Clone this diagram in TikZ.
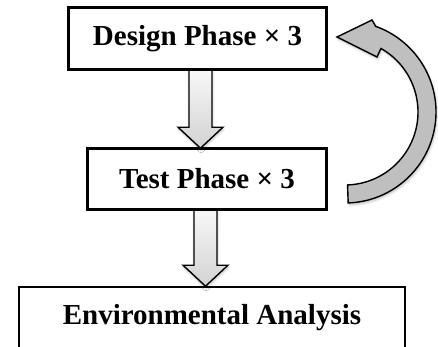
\documentclass[tikz,border=0pt]{standalone}
\usepackage{fontspec}
\setmainfont{Liberation Serif}
\usetikzlibrary{calc,shadows.blur}

\tikzset{
  phasebox/.style={draw=black, line width=1.6pt, fill=white, inner sep=0pt,
    font=\fontsize{29}{32}\selectfont\bfseries},
  arrowfill/.style={draw=black, line width=1.4pt, line join=miter,
    top color=gray!6, bottom color=gray!35,
    blur shadow={shadow xshift=0.5pt, shadow yshift=-2pt, shadow opacity=25, shadow blur radius=2.5pt}},
  curvefill/.style={draw=black, line width=1.4pt, line join=miter, fill=gray!50,
    blur shadow={shadow xshift=1pt, shadow yshift=-2pt, shadow opacity=25, shadow blur radius=2.5pt}}
}

% Downward block arrow: #1 = point on the upper box, #2 = tip on the lower box
\newcommand\blockarrow[2]{%
  \path[arrowfill] let \p1=(#1), \p2=(#2) in
    (\x2-11.5pt,\y1) -- (\x2+11.5pt,\y1) -- (\x2+11.5pt,\y2+21pt)
    -- (\x2+22.5pt,\y2+21pt) -- (\x2,\y2) -- (\x2-22.5pt,\y2+21pt)
    -- (\x2-11.5pt,\y2+21pt) -- cycle;}

\begin{document}
\begin{tikzpicture}[x=1pt,y=1pt]
\useasboundingbox (0,0) rectangle (438,346);

% the three stages
\node[phasebox, minimum width=257pt, minimum height=61pt] (design) at (197.5,307.5) {Design Phase × 3};
\node[phasebox, minimum width=238pt, minimum height=60pt] (test) at (207,167) {Test Phase × 3};
\node[phasebox, minimum width=386pt, minimum height=61pt] (env) at (212,28.5) {Environmental Analysis};

% block arrows between the stages
\coordinate (tip1) at ([xshift=-6.5pt]test.north);
\coordinate (top1) at (design.south -| tip1);
\coordinate (tip2) at ([xshift=-6.5pt]env.north);
\coordinate (top2) at (test.south -| tip2);
\blockarrow{top1}{tip1}
\blockarrow{top2}{tip2}

% curved arrow looping back from the test phase to the design phase
\coordinate (c) at (345,234);
\path[curvefill] ($(c)+(-88:91)$) arc[start angle=-88, end angle=70.3, radius=91]
  -- (372,326) -- (337,309) -- (377,289)
  -- ($(c)+(60.5:73)$) arc[start angle=60.5, end angle=-88, radius=73] -- cycle;

% redraw the boxes' frames over the arrow shadows
\draw[line width=1.6pt] (design.south west) rectangle (design.north east);
\draw[line width=1.6pt] (test.south west) rectangle (test.north east);
\end{tikzpicture}
\end{document}
